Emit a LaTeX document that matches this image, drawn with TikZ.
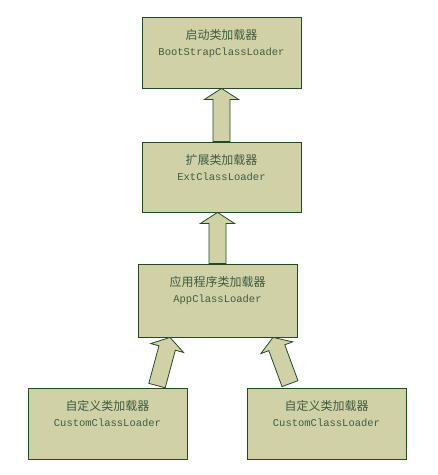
\documentclass[tikz,border=0pt]{standalone}
\usepackage{fontspec}
\setmonofont{Liberation Mono}
\newfontfamily\cjkfont{Noto Sans CJK SC}
\usepackage{tikz}
\usetikzlibrary{positioning}
\usetikzlibrary{calc}

\definecolor{boxfill}{RGB}{209,209,168}
\definecolor{boxline}{RGB}{35,75,35}
\definecolor{boxtext}{RGB}{64,92,64}

\newcommand{\loadertext}[2]{{\cjkfont\fontsize{12}{16}\selectfont #1}\\#2}

\begin{document}
\begin{tikzpicture}[
      x=1pt,y=-1pt,
      loader/.style={draw=boxline,fill=boxfill,line width=0.8pt,minimum width=159pt,inner sep=0pt},
      caption/.style={inner sep=0pt,align=center,text=boxtext,font=\ttfamily\fontsize{10.5}{16}\selectfont},
      arrowbody/.style={draw=boxline,fill=boxfill,line width=0.8pt,line join=miter},
    ]
        \useasboundingbox (0,0) rectangle (438,475);
        % the loaders, top to bottom
        \node[loader,minimum height=71pt] (boot) at (221.5,52.5) {};
        \node[caption,below=13pt of boot.north] (boottext) {\loadertext{启动类加载器}{BootStrapClassLoader}};
        \node[loader,minimum height=70pt] (ext) at (221.5,177) {};
        \node[caption,below=13pt of ext.north] (exttext) {\loadertext{扩展类加载器}{ExtClassLoader}};
        \node[loader,minimum height=73pt] (app) at (217.5,300.5) {};
        \node[caption,below=13pt of app.north] (apptext) {\loadertext{应用程序类加载器}{AppClassLoader}};
        \node[loader,minimum height=71pt] (customA) at (107.5,423.5) {};
        \node[caption,below=13pt of customA.north] (customAtext) {\loadertext{自定义类加载器}{CustomClassLoader}};
        \node[loader,minimum height=71pt] (customB) at (326.5,423.5) {};
        \node[caption,below=13pt of customB.north] (customBtext) {\loadertext{自定义类加载器}{CustomClassLoader}};

        % ends of the block arrows
        \coordinate (extA) at (ext.north);
        \coordinate (extB) at (boot.south -| ext.north);
        \coordinate (appA) at (app.north);
        \coordinate (appB) at (ext.south -| app.north);
        \coordinate (customAA) at ($(customA.north)+(49.5,-2)$);
        \coordinate (customAB) at ($(app.south)+(-47.5,0)$);
        \coordinate (customBA) at ($(customB.north)+(-36.5,-4)$);
        \coordinate (customBB) at ($(app.south)+(55.5,0)$);

        \foreach \from/\to in {extA/extB,appA/appB,customAA/customAB,customBA/customBB} {
            \coordinate (hb) at ($(\to)!11pt!(\from)$);
            \filldraw[arrowbody] ($(\from)!8.5pt!90:(\to)$) -- ($(hb)!8.5pt!90:(\to)$)
                -- ($(hb)!17pt!90:(\to)$) -- (\to) -- ($(hb)!17pt!-90:(\to)$)
                -- ($(hb)!8.5pt!-90:(\to)$) -- ($(\from)!8.5pt!-90:(\to)$) -- cycle;
        }
    \end{tikzpicture}
\end{document}
